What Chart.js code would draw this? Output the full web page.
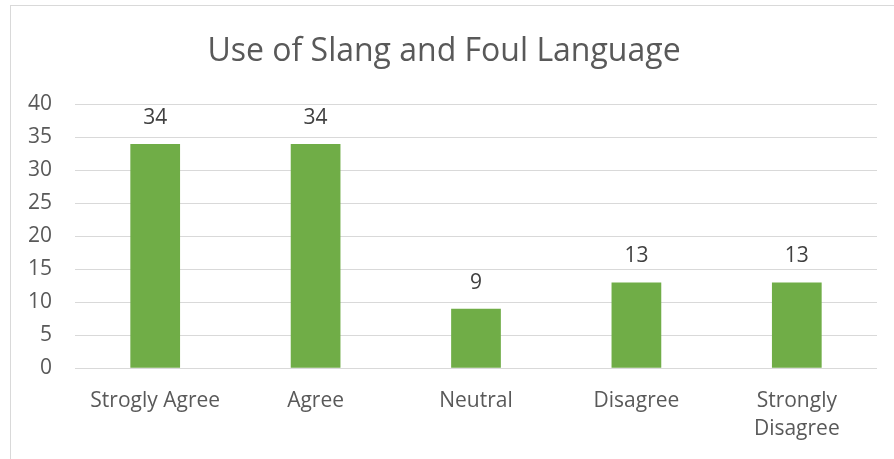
<!DOCTYPE html>
<html>
<head>
<meta charset="utf-8">
<script src="https://cdn.jsdelivr.net/npm/chart.js@4.4.1/dist/chart.umd.min.js"></script>
<style>
  html, body { margin: 0; padding: 0; background: #fff; }
  body { width: 894px; height: 459px; position: relative; overflow: hidden; }
  #frame {
    position: absolute; left: 10px; top: 5px; width: 900px; height: 470px;
    border: 1px solid #d9d9d9; box-sizing: border-box;
  }
  #wrap { position: absolute; left: 11px; top: 6px; width: 883px; height: 453px; }
</style>
</head>
<body>
<div id="frame"></div>
<div id="wrap"><canvas id="slangChart"></canvas></div>
<script>
// datos
const categories = ["Strogly Agree", "Agree", "Neutral", "Disagree", ["Strongly", "Disagree"]];
const responses = [34, 34, 9, 13, 13];
const yTicks = [0, 5, 10, 15, 20, 25, 30, 35, 40];

const FONT = "'Open Sans', 'Noto Sans', sans-serif";

// etiquetas encima de cada barra
const valueLabels = {
  id: "valueLabels",
  afterDatasetsDraw(chart) {
    const ctx = chart.ctx;
    const meta = chart.getDatasetMeta(0);
    ctx.save();
    ctx.font = "21px " + FONT;
    ctx.fillStyle = "#404040";
    ctx.textAlign = "center";
    ctx.textBaseline = "middle";
    meta.data.forEach(function (bar, i) {
      ctx.fillText(String(responses[i]), bar.x, bar.y - 26);
    });
    ctx.restore();
  },
};

new Chart(document.getElementById("slangChart"), {
  type: "bar",
  data: {
    labels: categories,
    datasets: [{
      data: responses,
      backgroundColor: "#70ad47",
      borderWidth: 0,
      categoryPercentage: 1,
      barPercentage: 0.31,
    }],
  },
  options: {
    responsive: true,
    maintainAspectRatio: false,
    animation: false,
    layout: { padding: { left: 0, right: 17, top: 0, bottom: -3 } },
    plugins: {
      legend: { display: false },
      tooltip: { enabled: false },
      title: {
        display: true,
        text: "Use of Slang and Foul Language",
        color: "#595959",
        font: { family: FONT, size: 32, weight: "normal", lineHeight: 1.2 },
        padding: { top: 27, bottom: 33 },
      },
    },
    scales: {
      x: {
        grid: { display: false, drawTicks: false },
        border: { display: false },
        ticks: {
          color: "#595959",
          font: { family: FONT, size: 21, lineHeight: 1.33 },
          padding: 19,
          maxRotation: 0,
          autoSkip: false,
        },
      },
      y: {
        min: 0,
        max: 40,
        afterBuildTicks(axis) { axis.ticks = yTicks.map(v => ({ value: v })); },
        afterFit(axis) { axis.width = 64; },
        grid: { color: "#d9d9d9", lineWidth: 1, drawTicks: false },
        border: { display: false },
        ticks: {
          color: "#595959",
          font: { family: FONT, size: 21 },
          padding: 23,
        },
      },
    },
  },
  plugins: [valueLabels],
});
</script>
</body>
</html>
